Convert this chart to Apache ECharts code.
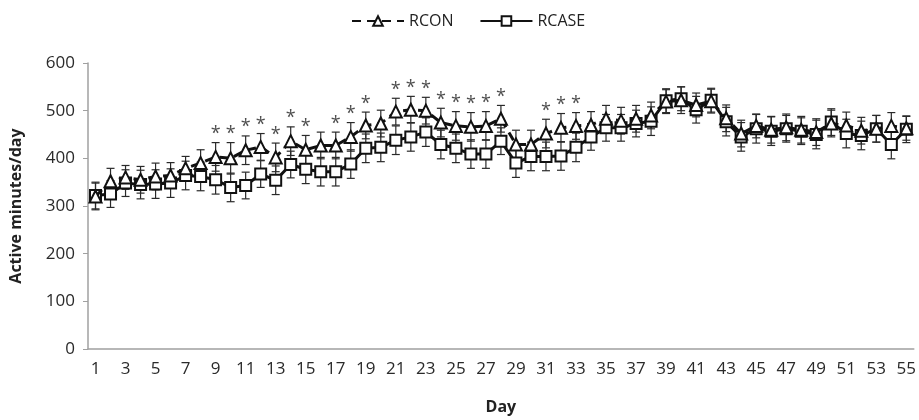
<!DOCTYPE html>
<html>
<head>
<meta charset="utf-8">
<script src="https://cdn.jsdelivr.net/npm/echarts@6/dist/echarts.min.js"></script>
<style>
  html, body { margin: 0; padding: 0; background: #fff; }
  #chart { width: 919px; height: 420px; }
</style>
</head>
<body>
<div id="chart"></div>
<script>
// 天数（横轴类目）
const days = ['1','2','3','4','5','6','7','8','9','10','11','12','13','14','15','16','17','18','19','20',
  '21','22','23','24','25','26','27','28','29','30','31','32','33','34','35','36','37','38','39','40',
  '41','42','43','44','45','46','47','48','49','50','51','52','53','54','55']

// RCON 均值与误差
const rcon = [320,352,360,355,362,364,379,390,403,400,417,424,402,436,418,427,427,445,469,473,
  498,502,500,475,468,466,468,483,429,429,452,464,468,470,483,479,483,490,519,522,
  512,520,484,452,468,460,465,460,455,473,469,458,462,468,463]
const rconErr = [28,27,25,28,28,27,25,28,30,33,30,28,30,30,30,28,28,30,28,28,
  28,28,28,30,30,30,30,28,30,30,30,30,28,28,28,28,28,28,25,28,
  25,25,28,28,25,28,28,28,28,28,28,28,28,28,25]

// RCASE 均值与误差
const rcase = [322,325,348,345,346,348,364,362,355,339,343,367,354,387,377,372,372,388,421,423,
  438,445,455,429,421,409,409,436,390,404,404,405,423,445,464,464,473,478,521,525,
  502,522,477,445,462,457,462,457,450,476,452,448,462,429,461]
const rcaseErr = [28,28,28,30,30,30,30,30,30,30,28,28,30,28,30,30,30,30,30,30,
  30,30,30,30,30,30,30,28,30,30,30,30,30,28,28,28,28,30,25,25,
  28,25,30,30,30,30,28,28,30,28,30,30,28,30,28]

// 有显著差异的天（星号）
const sigDays = [9,10,11,12,13,14,15,17,18,19,21,22,23,24,25,26,27,28,31,32,33]

const FONT = 'Open Sans'

function errRender(params, api) {
  const x = api.value(0), v = api.value(1), e = api.value(2)
  const top = api.coord([x, v + e])
  const bot = api.coord([x, v - e])
  const hw = 4
  const style = { stroke: '#2a2a2a', lineWidth: 1.2 }
  return {
    type: 'group',
    children: [
      { type: 'line', shape: { x1: top[0], y1: top[1], x2: bot[0], y2: bot[1] }, style },
      { type: 'line', shape: { x1: top[0] - hw, y1: top[1], x2: top[0] + hw, y2: top[1] }, style },
      { type: 'line', shape: { x1: bot[0] - hw, y1: bot[1], x2: bot[0] + hw, y2: bot[1] }, style },
    ]
  }
}

const chart = echarts.init(document.getElementById('chart'))
chart.setOption({
  animation: false,
  textStyle: { fontFamily: FONT },
  legend: {
    data: ['RCON', 'RCASE'],
    top: 8, left: 346,
    itemWidth: 52, itemHeight: 12, itemGap: 26,
    textStyle: { fontFamily: FONT, fontSize: 16, color: '#222' },
  },
  grid: { left: 83, right: 4, top: 63, bottom: 65 },
  xAxis: {
    type: 'category', data: days,
    name: 'Day', nameLocation: 'middle', nameGap: 50,
    nameTextStyle: { fontFamily: FONT, fontSize: 16, fontWeight: 'bold', color: '#222' },
    axisLine: { lineStyle: { color: '#a0a0a0', width: 1.5 } },
    axisTick: { interval: 0, length: 5, lineStyle: { color: '#a0a0a0' } },
    axisLabel: { interval: 1, fontSize: 17, color: '#2a2a2a', margin: 12 },
  },
  yAxis: {
    type: 'value', min: 0, max: 600, interval: 100,
    name: 'Active minutes/day', nameLocation: 'middle', nameGap: 64,
    nameTextStyle: { fontFamily: FONT, fontSize: 16, fontWeight: 'bold', color: '#222' },
    axisLine: { show: true, lineStyle: { color: '#a0a0a0', width: 1.5 } },
    axisTick: { show: true, length: 5, lineStyle: { color: '#a0a0a0' } },
    axisLabel: { fontSize: 17, color: '#2a2a2a', margin: 13 },
    splitLine: { show: false },
  },
  series: [
    {
      name: 'RCON-err', type: 'custom', renderItem: errRender, z: 1,
      encode: { x: 0, y: 1 },
      data: rcon.map((v, i) => [i, v, rconErr[i]]),
    },
    {
      name: 'RCASE-err', type: 'custom', renderItem: errRender, z: 1,
      encode: { x: 0, y: 1 },
      data: rcase.map((v, i) => [i, v, rcaseErr[i]]),
    },
    {
      name: 'RCASE', type: 'line', data: rcase, z: 3,
      symbol: 'rect', symbolSize: 11, showAllSymbol: true,
      lineStyle: { color: '#111', width: 3 },
      itemStyle: { color: '#fff', borderColor: '#111', borderWidth: 2 },
    },
    {
      name: 'RCON', type: 'line', data: rcon, z: 4,
      symbol: 'triangle', symbolSize: 12, showAllSymbol: true,
      lineStyle: { color: '#111', width: 3, type: [9, 6] },
      itemStyle: { color: '#fff', borderColor: '#111', borderWidth: 2 },
    },
    {
      name: 'sig', type: 'scatter', z: 5,
      symbolSize: 1, itemStyle: { color: 'rgba(0,0,0,0)' },
      data: sigDays.map(d => [d - 1, rcon[d - 1] + rconErr[d - 1] + 18]),
      label: { show: true, position: 'inside', formatter: '*', fontSize: 18, color: '#222', fontFamily: FONT },
    },
  ]
})
</script>
</body>
</html>
